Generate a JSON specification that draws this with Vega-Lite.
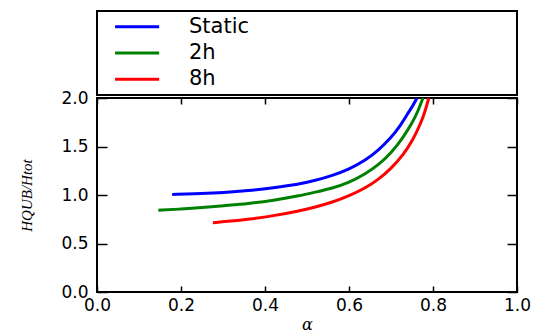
{
  "$schema": "https://vega.github.io/schema/vega-lite/v6.json",
  "autosize": {"type": "pad"},
  "padding": {"left": 18, "top": 10, "right": 0, "bottom": 0},
  "bounds": "flush",
  "spacing": 3,
  "config": {
    "font": "DejaVu Sans",
    "view": {"stroke": "black", "strokeWidth": 2},
    "axis": {"domain": false, "grid": false, "labelFlush": false, "tickColor": "black", "tickWidth": 1.5, "labelColor": "black", "labelFontSize": 17, "labelFont": "DejaVu Sans"}
  },
  "datasets": {
    "curves": [
      {"series": "Static", "alpha": 0.179, "h": 1.005},
      {"series": "Static", "alpha": 0.25, "h": 1.015},
      {"series": "Static", "alpha": 0.30, "h": 1.025},
      {"series": "Static", "alpha": 0.36, "h": 1.045},
      {"series": "Static", "alpha": 0.42, "h": 1.075},
      {"series": "Static", "alpha": 0.48, "h": 1.11},
      {"series": "Static", "alpha": 0.52, "h": 1.15},
      {"series": "Static", "alpha": 0.56, "h": 1.20},
      {"series": "Static", "alpha": 0.60, "h": 1.265},
      {"series": "Static", "alpha": 0.64, "h": 1.36},
      {"series": "Static", "alpha": 0.67, "h": 1.46},
      {"series": "Static", "alpha": 0.70, "h": 1.59},
      {"series": "Static", "alpha": 0.72, "h": 1.70},
      {"series": "Static", "alpha": 0.74, "h": 1.84},
      {"series": "Static", "alpha": 0.752, "h": 1.92},
      {"series": "Static", "alpha": 0.762, "h": 2.0},
      {"series": "2h", "alpha": 0.146, "h": 0.842},
      {"series": "2h", "alpha": 0.20, "h": 0.855},
      {"series": "2h", "alpha": 0.25, "h": 0.87},
      {"series": "2h", "alpha": 0.30, "h": 0.89},
      {"series": "2h", "alpha": 0.36, "h": 0.91},
      {"series": "2h", "alpha": 0.42, "h": 0.945},
      {"series": "2h", "alpha": 0.48, "h": 0.99},
      {"series": "2h", "alpha": 0.52, "h": 1.03},
      {"series": "2h", "alpha": 0.56, "h": 1.07},
      {"series": "2h", "alpha": 0.60, "h": 1.127},
      {"series": "2h", "alpha": 0.64, "h": 1.22},
      {"series": "2h", "alpha": 0.67, "h": 1.31},
      {"series": "2h", "alpha": 0.70, "h": 1.43},
      {"series": "2h", "alpha": 0.73, "h": 1.60},
      {"series": "2h", "alpha": 0.75, "h": 1.74},
      {"series": "2h", "alpha": 0.764, "h": 1.86},
      {"series": "2h", "alpha": 0.776, "h": 2.0},
      {"series": "8h", "alpha": 0.276, "h": 0.715},
      {"series": "8h", "alpha": 0.32, "h": 0.73},
      {"series": "8h", "alpha": 0.36, "h": 0.75},
      {"series": "8h", "alpha": 0.42, "h": 0.785},
      {"series": "8h", "alpha": 0.48, "h": 0.835},
      {"series": "8h", "alpha": 0.52, "h": 0.875},
      {"series": "8h", "alpha": 0.56, "h": 0.925},
      {"series": "8h", "alpha": 0.60, "h": 0.99},
      {"series": "8h", "alpha": 0.64, "h": 1.075},
      {"series": "8h", "alpha": 0.67, "h": 1.16},
      {"series": "8h", "alpha": 0.70, "h": 1.27},
      {"series": "8h", "alpha": 0.73, "h": 1.42},
      {"series": "8h", "alpha": 0.75, "h": 1.55},
      {"series": "8h", "alpha": 0.77, "h": 1.73},
      {"series": "8h", "alpha": 0.781, "h": 1.86},
      {"series": "8h", "alpha": 0.79, "h": 2.0}
    ],
    "legendRows": [
      {"series": "Static"},
      {"series": "2h"},
      {"series": "8h"}
    ]
  },
  "vconcat": [
    {
      "width": 420,
      "height": 84,
      "data": {"name": "legendRows"},
      "layer": [
        {
          "mark": {"type": "rule", "strokeWidth": 3},
          "encoding": {
            "x": {"datum": 0.043, "type": "quantitative", "scale": {"domain": [0, 1]}, "axis": null},
            "x2": {"datum": 0.148},
            "y": {"field": "series", "type": "nominal", "scale": {"type": "point", "domain": ["Static", "2h", "8h"], "padding": 0.6}, "axis": null},
            "color": {"field": "series", "type": "nominal", "scale": {"domain": ["Static", "2h", "8h"], "range": ["#0000ff", "#008000", "#ff0000"]}, "legend": null}
          }
        },
        {
          "mark": {"type": "text", "align": "left", "baseline": "middle", "fontSize": 21, "font": "DejaVu Sans", "color": "black"},
          "encoding": {
            "x": {"datum": 0.219, "type": "quantitative", "scale": {"domain": [0, 1]}, "axis": null},
            "y": {"field": "series", "type": "nominal", "scale": {"type": "point", "domain": ["Static", "2h", "8h"], "padding": 0.6}, "axis": null},
            "text": {"field": "series"}
          }
        }
      ]
    },
    {
      "width": 420,
      "height": 194,
      "data": {"name": "curves"},
      "resolve": {"axis": {"x": "independent", "y": "independent"}},
      "layer": [
        {
          "mark": {"type": "line", "strokeWidth": 3, "interpolate": "basis", "clip": true},
          "encoding": {
            "x": {"field": "alpha", "type": "quantitative", "scale": {"domain": [0, 1]},
                  "axis": {"orient": "bottom", "values": [0, 0.2, 0.4, 0.6, 0.8, 1.0], "format": ".1f", "tickSize": -6, "labelPadding": 11,
                           "title": "α", "titleFont": "DejaVu Serif", "titleFontStyle": "italic", "titleFontWeight": "normal", "titleFontSize": 16, "titlePadding": 3}},
            "y": {"field": "h", "type": "quantitative", "scale": {"domain": [0, 2]},
                  "axis": {"orient": "left", "values": [0, 0.5, 1.0, 1.5, 2.0], "format": ".1f", "tickSize": -10, "labelPadding": 19,
                           "title": "HQUB/Htot", "titleFont": "Liberation Serif", "titleFontStyle": "italic", "titleFontWeight": "normal", "titleFontSize": 15, "titlePadding": 26}},
            "color": {"field": "series", "type": "nominal", "scale": {"domain": ["Static", "2h", "8h"], "range": ["#0000ff", "#008000", "#ff0000"]}, "legend": null},
            "detail": {"field": "series"}
          }
        },
        {
          "mark": {"type": "point", "opacity": 0},
          "encoding": {
            "x": {"field": "alpha", "type": "quantitative", "scale": {"domain": [0, 1]},
                  "axis": {"orient": "top", "values": [0, 0.2, 0.4, 0.6, 0.8, 1.0], "labels": false, "tickSize": -6, "title": null}},
            "y": {"field": "h", "type": "quantitative", "scale": {"domain": [0, 2]},
                  "axis": {"orient": "right", "values": [0, 0.5, 1.0, 1.5, 2.0], "labels": false, "tickSize": -10, "title": null}}
          }
        }
      ]
    }
  ]
}
